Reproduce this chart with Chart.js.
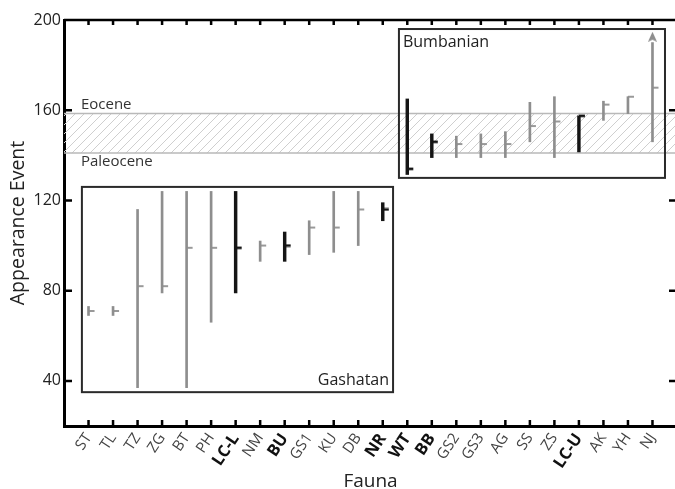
<!DOCTYPE html>
<html>
<head>
<meta charset="utf-8">
<script src="https://cdn.jsdelivr.net/npm/chart.js@4"></script>
<style>
  html, body { margin: 0; padding: 0; background: #fff; overflow: hidden; }
  #wrap { width: 690px; height: 489px; position: relative; }
</style>
</head>
<body>
<div id="wrap"><canvas id="grafico"></canvas></div>
<script>
// faunas, in order along the x axis
const fauna = ['ST','TL','TZ','ZG','BT','PH','LC-L','NM','BU','GS1','KU','DB','NR','WT','BB','GS2','GS3','AG','SS','ZS','LC-U','AK','YH','NJ'];
const faunaBold = ['LC-L','BU','NR','WT','BB','LC-U'];
// appearance event ranges (min, max) and the mark
const evMin  = [69, 69, 37, 79, 37, 66, 79, 93, 93, 96, 97, 100, 111, 131.5, 139, 139, 139, 139, 146, 139, 141.5, 155.5, 158.5, 146];
const evMax  = [73, 73, 116, 124, 124, 124, 124, 102, 106, 111, 124, 124, 119, 165, 149.5, 148.5, 149.5, 150.5, 163.5, 166, 157.5, 164, 166, 190];
const evMark = [71, 71, 82, 82, 99, 99, 99, 100, 100, 108, 108, 116, 116, 134, 146, 145, 145, 145, 153, 155, 157.5, 162.5, 166, 170];
const arrowTip = { fauna: 'NJ', y: 192.6 };
const yTicks = [40, 80, 120, 160, 200];
// Paleocene / Eocene boundary band
const boundary = [141, 158.5];
// land mammal age boxes: x in fauna index units, y in event units
const gashatan = { x: [-0.27, 12.42], y: [35, 126] };
const bumbanian = { x: [12.66, 23.51], y: [130, 196] };

const CINZA = '#8e8e8e';
const PRETO = '#151515';
const FONTE = '"Open Sans", "Noto Sans", sans-serif';

const isBold = i => faunaBold.includes(fauna[i]);

// small stub pointing right from the bar
function stub(cor, w) {
    const c = document.createElement('canvas');
    c.width = 14; c.height = 4;
    const g = c.getContext('2d');
    g.fillStyle = cor;
    g.fillRect(7, 2 - w / 2, 6, w);
    return c;
}
const stubCinza = stub(CINZA, 1.8);
const stubPreto = stub(PRETO, 2.6);

const seta = document.createElement('canvas');
seta.width = 9; seta.height = 10;
(() => {
    const g = seta.getContext('2d');
    g.fillStyle = CINZA;
    g.beginPath(); g.moveTo(4.5, 0); g.lineTo(9, 10); g.lineTo(4.5, 8); g.lineTo(0, 10); g.closePath(); g.fill();
})();

// hatch pattern
const hatchCanvas = document.createElement('canvas');
hatchCanvas.width = 9; hatchCanvas.height = 9;
(() => {
    const g = hatchCanvas.getContext('2d');
    g.strokeStyle = '#cfcfcf';
    g.lineWidth = 1;
    g.beginPath();
    g.moveTo(-1, 10); g.lineTo(10, -1);
    g.moveTo(-1, 1); g.lineTo(1, -1);
    g.moveTo(8, 10); g.lineTo(10, 8);
    g.stroke();
})();

const gray = fauna.map((f, i) => isBold(i) ? null : { x: i, y: [evMin[i], evMax[i]] }).filter(d => d);
const black = fauna.map((f, i) => isBold(i) ? { x: i, y: [evMin[i], evMax[i]] } : null).filter(d => d);
const marks = fauna.map((f, i) => ({ x: i, y: evMark[i] }));

const decor = {
    id: 'decor',
    beforeDatasetsDraw(chart) {
        const { ctx, chartArea: a, scales: { x, y } } = chart;
        ctx.save();
        const y1 = y.getPixelForValue(boundary[1]), y0 = y.getPixelForValue(boundary[0]);
        ctx.fillStyle = ctx.createPattern(hatchCanvas, 'repeat');
        ctx.fillRect(a.left, y1, a.right - a.left, y0 - y1);
        ctx.strokeStyle = '#b9b9b9';
        ctx.lineWidth = 1.5;
        ctx.beginPath();
        ctx.moveTo(a.left, y1); ctx.lineTo(a.right, y1);
        ctx.moveTo(a.left, y0); ctx.lineTo(a.right, y0);
        ctx.stroke();

        ctx.fillStyle = '#333';
        ctx.font = '15px ' + FONTE;
        ctx.textBaseline = 'middle';
        ctx.textAlign = 'left';
        ctx.fillText('Eocene', x.getPixelForValue(-0.31), y.getPixelForValue(162.3));
        ctx.fillText('Paleocene', x.getPixelForValue(-0.31), y.getPixelForValue(137));
        ctx.restore();
    },
    afterDatasetsDraw(chart) {
        const { ctx, chartArea: a, scales: { x, y } } = chart;
        ctx.save();
        // boxes
        ctx.strokeStyle = '#2a2a2a';
        ctx.lineWidth = 2;
        [gashatan, bumbanian].forEach(b => {
            const l = x.getPixelForValue(b.x[0]), r = x.getPixelForValue(b.x[1]);
            const t = y.getPixelForValue(b.y[1]), bt = y.getPixelForValue(b.y[0]);
            ctx.strokeRect(l, t, r - l, bt - t);
        });
        ctx.fillStyle = '#222';
        ctx.font = '16px ' + FONTE;
        ctx.textBaseline = 'middle';
        ctx.textAlign = 'left';
        ctx.fillText('Bumbanian', x.getPixelForValue(bumbanian.x[0]) + 4, y.getPixelForValue(bumbanian.y[1]) + 13);
        ctx.textAlign = 'right';
        ctx.fillText('Gashatan', x.getPixelForValue(gashatan.x[1]) - 4, y.getPixelForValue(gashatan.y[0]) - 12);

        // frame and inward ticks
        ctx.strokeStyle = '#000';
        ctx.lineWidth = 2.5;
        ctx.beginPath();
        ctx.moveTo(a.left, a.top); ctx.lineTo(a.right, a.top); ctx.lineTo(a.right, a.bottom);
        fauna.forEach((f, i) => {
            const px = x.getPixelForValue(i);
            ctx.moveTo(px, a.top); ctx.lineTo(px, a.top + 5);
            ctx.moveTo(px, a.bottom); ctx.lineTo(px, a.bottom - 6);
        });
        yTicks.forEach(v => {
            const py = y.getPixelForValue(v);
            ctx.moveTo(a.left, py); ctx.lineTo(a.left + 8, py);
            ctx.moveTo(a.right, py); ctx.lineTo(a.right - 8, py);
        });
        ctx.stroke();
        ctx.restore();
    }
};

new Chart(document.getElementById('grafico'), {
    type: 'bar',
    data: {
        datasets: [
            { label: 'faixa', data: gray, backgroundColor: CINZA, barThickness: 2, grouped: false, order: 2 },
            { label: 'faixa bold', data: black, backgroundColor: PRETO, barThickness: 2.8, grouped: false, order: 2 },
            {
                type: 'scatter', label: 'marca', data: marks, order: 1,
                pointStyle: fauna.map((f, i) => isBold(i) ? stubPreto : stubCinza),
                pointRadius: 7
            },
            {
                type: 'scatter', label: 'seta', order: 1,
                data: [{ x: fauna.indexOf(arrowTip.fauna), y: arrowTip.y }],
                pointStyle: seta, pointRadius: 5
            }
        ]
    },
    options: {
        responsive: true,
        maintainAspectRatio: false,
        animation: false,
        layout: { padding: { top: 20, right: 13, left: 0, bottom: 0 } },
        plugins: { legend: { display: false }, tooltip: { enabled: false } },
        scales: {
            x: {
                type: 'linear',
                offset: false,
                min: -1, max: 24,
                afterBuildTicks: s => { s.ticks = fauna.map((f, i) => ({ value: i })); },
                afterFit: s => { s.height = 63; },
                grid: { display: false, drawTicks: false, offset: false },
                border: { display: true, color: '#000', width: 3 },
                ticks: {
                    autoSkip: false,
                    maxRotation: 56, minRotation: 56,
                    padding: 4,
                    callback: v => fauna[v],
                    color: ctx => isBold(ctx.index) ? '#111' : '#444',
                    font: ctx => isBold(ctx.index)
                        ? { family: FONTE, size: 16.5, weight: 'bold' }
                        : { family: FONTE, size: 15 }
                },
                title: {
                    display: true, text: 'Fauna', color: '#222',
                    font: { family: FONTE, size: 19 },
                    padding: { top: 0, bottom: -4 }
                }
            },
            y: {
                min: 20, max: 200,
                afterBuildTicks: s => { s.ticks = yTicks.map(v => ({ value: v })); },
                afterFit: s => { s.width = 64; },
                grid: { display: false, drawTicks: false },
                border: { display: true, color: '#000', width: 3 },
                ticks: { padding: 3, color: '#222', font: { family: FONTE, size: 16 } },
                title: {
                    display: true, text: 'Appearance Event', color: '#222',
                    font: { family: FONTE, size: 19.5 },
                    padding: { top: 7, bottom: 0 }
                }
            }
        }
    },
    plugins: [decor]
});
</script>
</body>
</html>
